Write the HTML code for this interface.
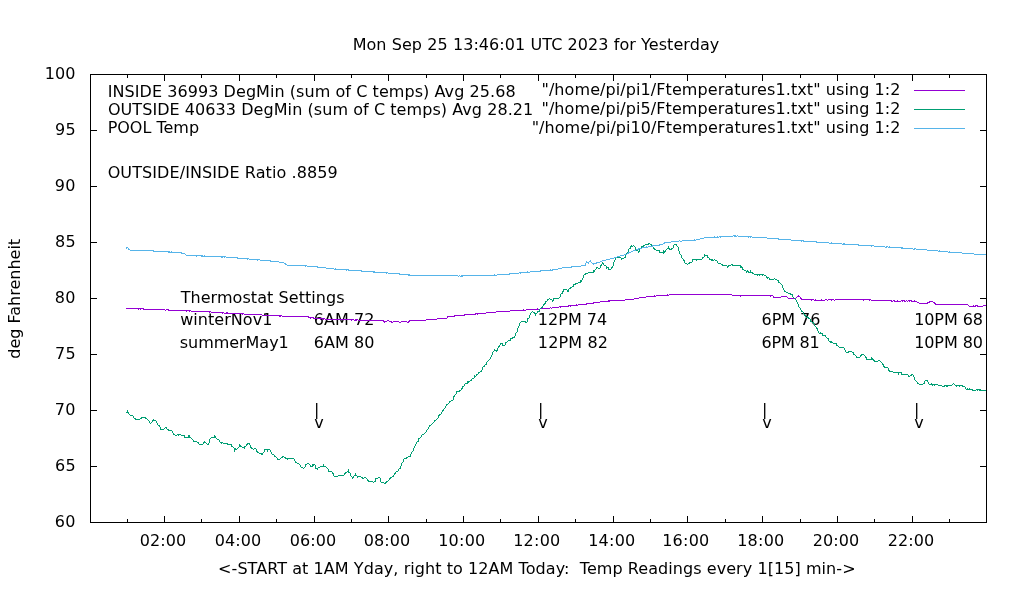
<!DOCTYPE html>
<html lang="en"><head><meta charset="utf-8"><title>Temperatures for Yesterday</title>
<style>html,body{margin:0;padding:0;background:#fff;overflow:hidden}svg{display:block}</style></head>
<body>
<svg width="1020" height="600" viewBox="0 0 1020 600">
<rect width="1020" height="600" fill="#fff"/>
<path d="M90,522.5h7M987,522.5h-7M90,466.5h7M987,466.5h-7M90,410.5h7M987,410.5h-7M90,354.5h7M987,354.5h-7M90,298.5h7M987,298.5h-7M90,242.5h7M987,242.5h-7M90,186.5h7M987,186.5h-7M90,130.5h7M987,130.5h-7M90,74.5h7M987,74.5h-7M127.5,523v-4M127.5,74v4M164.5,523v-7M164.5,74v7M201.5,523v-4M201.5,74v4M239.5,523v-7M239.5,74v7M276.5,523v-4M276.5,74v4M314.5,523v-7M314.5,74v7M351.5,523v-4M351.5,74v4M388.5,523v-7M388.5,74v7M426.5,523v-4M426.5,74v4M463.5,523v-7M463.5,74v7M500.5,523v-4M500.5,74v4M538.5,523v-7M538.5,74v7M575.5,523v-4M575.5,74v4M613.5,523v-7M613.5,74v7M650.5,523v-4M650.5,74v4M687.5,523v-7M687.5,74v7M725.5,523v-4M725.5,74v4M762.5,523v-7M762.5,74v7M800.5,523v-4M800.5,74v4M837.5,523v-7M837.5,74v7M874.5,523v-4M874.5,74v4M912.5,523v-7M912.5,74v7M949.5,523v-4M949.5,74v4" stroke="#000" stroke-width="1" fill="none" shape-rendering="crispEdges"/>
<g font-family="'DejaVu Sans','Liberation Sans',sans-serif" font-size="16" fill="#000">
<text x="54.75" y="527.1" letter-spacing="0.25">60</text>
<text x="55.09" y="471.1" letter-spacing="0.25">65</text>
<text x="54.75" y="415.1" letter-spacing="0.25">70</text>
<text x="55.09" y="359.1" letter-spacing="0.25">75</text>
<text x="54.75" y="303.1" letter-spacing="0.25">80</text>
<text x="55.09" y="247.1" letter-spacing="0.25">85</text>
<text x="54.75" y="191.1" letter-spacing="0.25">90</text>
<text x="55.09" y="135.1" letter-spacing="0.25">95</text>
<text x="44.82" y="79.1" letter-spacing="0.00">100</text>
<text x="139.85" y="546.0" letter-spacing="0.077" xml:space="preserve">02:00</text>
<text x="214.85" y="546.0" letter-spacing="0.077" xml:space="preserve">04:00</text>
<text x="289.85" y="546.0" letter-spacing="0.077" xml:space="preserve">06:00</text>
<text x="363.85" y="546.0" letter-spacing="0.077" xml:space="preserve">08:00</text>
<text x="438.14" y="546.0" letter-spacing="0.253" xml:space="preserve">10:00</text>
<text x="513.14" y="546.0" letter-spacing="0.253" xml:space="preserve">12:00</text>
<text x="588.14" y="546.0" letter-spacing="0.253" xml:space="preserve">14:00</text>
<text x="662.14" y="546.0" letter-spacing="0.253" xml:space="preserve">16:00</text>
<text x="737.14" y="546.0" letter-spacing="0.253" xml:space="preserve">18:00</text>
<text x="812.73" y="546.0" letter-spacing="0.106" xml:space="preserve">20:00</text>
<text x="887.73" y="546.0" letter-spacing="0.106" xml:space="preserve">22:00</text>
<text x="352.63" y="50.0" letter-spacing="0.069" xml:space="preserve">Mon Sep 25 13:46:01 UTC 2023 for Yesterday</text>
<text x="218.10" y="574.0" letter-spacing="0.065" xml:space="preserve">&lt;-START at 1AM Yday, right to 12AM Today:  Temp Readings every 1[15] min-&gt;</text>
<text transform="translate(20.3,298.8) rotate(-90)" text-anchor="middle">deg Fahrenheit</text>
<text x="107.73" y="96.7" letter-spacing="0.062" xml:space="preserve">INSIDE 36993 DegMin (sum of C temps) Avg 25.68</text>
<text x="107.90" y="115.2" letter-spacing="0.064" xml:space="preserve">OUTSIDE 40633 DegMin (sum of C temps) Avg 28.21</text>
<text x="107.63" y="132.5" letter-spacing="-0.004" xml:space="preserve">POOL Temp</text>
<text x="107.70" y="177.5" letter-spacing="0.084" xml:space="preserve">OUTSIDE/INSIDE Ratio .8859</text>
<text x="180.65" y="302.5" letter-spacing="0.061" xml:space="preserve">Thermostat Settings</text>
<text x="180.23" y="324.7" letter-spacing="0.042" xml:space="preserve">winterNov1</text>
<text x="179.73" y="347.5" letter-spacing="-0.032" xml:space="preserve">summerMay1</text>
<text x="313.68" y="324.7" letter-spacing="0.069" xml:space="preserve">6AM 72</text>
<text x="313.68" y="347.5" letter-spacing="0.081" xml:space="preserve">6AM 80</text>
<text x="537.84" y="324.7" letter-spacing="0.016" xml:space="preserve">12PM 74</text>
<text x="537.84" y="347.5" letter-spacing="0.134" xml:space="preserve">12PM 82</text>
<text x="761.58" y="324.7" letter-spacing="-0.051" xml:space="preserve">6PM 76</text>
<text x="761.58" y="347.5" letter-spacing="-0.217" xml:space="preserve">6PM 81</text>
<text x="914.14" y="324.7" letter-spacing="-0.068" xml:space="preserve">10PM 68</text>
<text x="914.14" y="347.5" letter-spacing="-0.073" xml:space="preserve">10PM 80</text>
<text x="314.0" y="415">|</text>
<text x="314.2" y="428">v</text>
<text x="538.0" y="415">|</text>
<text x="538.2" y="428">v</text>
<text x="762.0" y="415">|</text>
<text x="762.2" y="428">v</text>
<text x="914.0" y="415">|</text>
<text x="914.2" y="428">v</text>
<text x="541.46" y="95.0" letter-spacing="0.083" xml:space="preserve">&quot;/home/pi/pi1/Ftemperatures1.txt&quot; using 1:2</text>
<text x="541.46" y="114.0" letter-spacing="0.083" xml:space="preserve">&quot;/home/pi/pi5/Ftemperatures1.txt&quot; using 1:2</text>
<text x="531.66" y="132.8" letter-spacing="0.072" xml:space="preserve">&quot;/home/pi/pi10/Ftemperatures1.txt&quot; using 1:2</text>
</g>
<path d="M914,90.5H965" stroke="#9400d3" stroke-width="1" fill="none" shape-rendering="crispEdges"/>
<path d="M914,109.5H965" stroke="#009e73" stroke-width="1" fill="none" shape-rendering="crispEdges"/>
<path d="M914,128.5H965" stroke="#56b4e9" stroke-width="1" fill="none" shape-rendering="crispEdges"/>
<path d="M667 294h1v1h-1zM669 294h63v1h-63zM654 295h1v1h-1zM656 295h13v1h-13zM732 295h41v1h-41zM798 295h1v1h-1zM646 296h10v1h-10zM740 296h1v1h-1zM770 296h1v1h-1zM773 296h1v1h-1zM781 296h6v1h-6zM797 296h3v1h-3zM639 297h7v1h-7zM773 297h8v1h-8zM787 297h1v1h-1zM796 297h1v1h-1zM800 297h1v1h-1zM634 298h5v1h-5zM788 298h8v1h-8zM800 298h2v1h-2zM625 299h9v1h-9zM801 299h13v1h-13zM815 299h1v1h-1zM821 299h1v1h-1zM825 299h2v1h-2zM828 299h6v1h-6zM835 299h36v1h-36zM608 300h17v1h-17zM811 300h1v1h-1zM814 300h11v1h-11zM827 300h1v1h-1zM831 300h1v1h-1zM834 300h1v1h-1zM863 300h1v1h-1zM869 300h1v1h-1zM871 300h21v1h-21zM893 300h2v1h-2zM897 300h1v1h-1zM901 300h4v1h-4zM906 300h1v1h-1zM908 300h4v1h-4zM914 300h1v1h-1zM600 301h10v1h-10zM891 301h2v1h-2zM894 301h7v1h-7zM902 301h1v1h-1zM904 301h2v1h-2zM907 301h1v1h-1zM909 301h1v1h-1zM911 301h6v1h-6zM929 301h4v1h-4zM593 302h7v1h-7zM917 302h2v1h-2zM927 302h3v1h-3zM933 302h2v1h-2zM586 303h8v1h-8zM919 303h9v1h-9zM934 303h2v1h-2zM576 304h1v1h-1zM578 304h9v1h-9zM935 304h33v1h-33zM568 305h10v1h-10zM968 305h1v1h-1zM973 305h1v1h-1zM975 305h3v1h-3zM983 305h3v1h-3zM559 306h10v1h-10zM570 306h1v1h-1zM969 306h7v1h-7zM977 306h6v1h-6zM550 307h1v1h-1zM552 307h7v1h-7zM560 307h1v1h-1zM126 308h18v1h-18zM537 308h1v1h-1zM540 308h10v1h-10zM551 308h1v1h-1zM138 309h1v1h-1zM140 309h1v1h-1zM143 309h22v1h-22zM166 309h3v1h-3zM523 309h1v1h-1zM526 309h14v1h-14zM165 310h1v1h-1zM168 310h23v1h-23zM510 310h16v1h-16zM186 311h1v1h-1zM189 311h1v1h-1zM191 311h20v1h-20zM496 311h14v1h-14zM209 312h1v1h-1zM211 312h13v1h-13zM226 312h2v1h-2zM486 312h10v1h-10zM222 313h1v1h-1zM224 313h20v1h-20zM475 313h11v1h-11zM242 314h1v1h-1zM244 314h18v1h-18zM464 314h12v1h-12zM477 314h1v1h-1zM262 315h20v1h-20zM454 315h11v1h-11zM279 316h2v1h-2zM282 316h27v1h-27zM447 316h8v1h-8zM308 317h6v1h-6zM447 317h1v1h-1zM310 318h1v1h-1zM313 318h12v1h-12zM437 318h10v1h-10zM320 319h1v1h-1zM323 319h1v1h-1zM325 319h29v1h-29zM355 319h3v1h-3zM426 319h11v1h-11zM351 320h1v1h-1zM354 320h3v1h-3zM358 320h26v1h-26zM387 320h2v1h-2zM409 320h17v1h-17zM383 321h4v1h-4zM389 321h3v1h-3zM393 321h6v1h-6zM401 321h6v1h-6zM408 321h2v1h-2zM384 322h1v1h-1zM391 322h2v1h-2zM399 322h2v1h-2zM407 322h2v1h-2z" fill="#9400d3" shape-rendering="crispEdges"/>
<path d="M648 243h2v1h-2zM645 244h4v1h-4zM650 244h2v1h-2zM674 244h3v1h-3zM631 245h1v1h-1zM633 245h1v1h-1zM643 245h2v1h-2zM651 245h1v1h-1zM673 245h1v1h-1zM676 245h1v1h-1zM630 246h3v1h-3zM634 246h1v1h-1zM641 246h3v1h-3zM652 246h1v1h-1zM668 246h1v1h-1zM673 246h1v1h-1zM677 246h1v1h-1zM630 247h1v1h-1zM635 247h1v1h-1zM641 247h1v1h-1zM653 247h1v1h-1zM668 247h1v1h-1zM673 247h1v1h-1zM678 247h1v1h-1zM629 248h2v1h-2zM635 248h1v1h-1zM640 248h1v1h-1zM653 248h2v1h-2zM667 248h3v1h-3zM671 248h2v1h-2zM678 248h1v1h-1zM628 249h1v1h-1zM635 249h1v1h-1zM639 249h1v1h-1zM654 249h2v1h-2zM666 249h1v1h-1zM669 249h3v1h-3zM678 249h1v1h-1zM628 250h1v1h-1zM636 250h2v1h-2zM639 250h1v1h-1zM656 250h4v1h-4zM663 250h1v1h-1zM665 250h1v1h-1zM678 250h1v1h-1zM628 251h1v1h-1zM638 251h2v1h-2zM659 251h1v1h-1zM663 251h3v1h-3zM679 251h1v1h-1zM627 252h1v1h-1zM638 252h1v1h-1zM659 252h6v1h-6zM679 252h1v1h-1zM626 253h1v1h-1zM663 253h1v1h-1zM679 253h1v1h-1zM626 254h1v1h-1zM680 254h1v1h-1zM704 254h1v1h-1zM625 255h1v1h-1zM681 255h1v1h-1zM704 255h4v1h-4zM625 256h1v1h-1zM681 256h1v1h-1zM704 256h1v1h-1zM707 256h1v1h-1zM616 257h5v1h-5zM624 257h2v1h-2zM681 257h1v1h-1zM702 257h2v1h-2zM707 257h2v1h-2zM615 258h1v1h-1zM621 258h3v1h-3zM682 258h1v1h-1zM702 258h1v1h-1zM709 258h1v1h-1zM615 259h1v1h-1zM621 259h1v1h-1zM683 259h1v1h-1zM692 259h10v1h-10zM709 259h4v1h-4zM714 259h1v1h-1zM614 260h1v1h-1zM683 260h2v1h-2zM692 260h1v1h-1zM696 260h1v1h-1zM711 260h3v1h-3zM715 260h2v1h-2zM614 261h1v1h-1zM684 261h1v1h-1zM692 261h1v1h-1zM717 261h1v1h-1zM602 262h1v1h-1zM613 262h1v1h-1zM684 262h1v1h-1zM689 262h3v1h-3zM717 262h1v1h-1zM602 263h2v1h-2zM613 263h1v1h-1zM685 263h2v1h-2zM688 263h2v1h-2zM718 263h3v1h-3zM601 264h1v1h-1zM603 264h1v1h-1zM613 264h1v1h-1zM687 264h1v1h-1zM721 264h2v1h-2zM731 264h2v1h-2zM600 265h2v1h-2zM604 265h2v1h-2zM613 265h1v1h-1zM722 265h5v1h-5zM728 265h3v1h-3zM732 265h9v1h-9zM600 266h1v1h-1zM606 266h1v1h-1zM612 266h1v1h-1zM727 266h2v1h-2zM740 266h2v1h-2zM596 267h2v1h-2zM600 267h1v1h-1zM606 267h3v1h-3zM611 267h2v1h-2zM727 267h1v1h-1zM740 267h3v1h-3zM596 268h1v1h-1zM598 268h2v1h-2zM606 268h1v1h-1zM608 268h1v1h-1zM611 268h1v1h-1zM742 268h1v1h-1zM595 269h1v1h-1zM608 269h3v1h-3zM742 269h2v1h-2zM593 270h2v1h-2zM744 270h2v1h-2zM747 270h1v1h-1zM750 270h1v1h-1zM593 271h2v1h-2zM746 271h3v1h-3zM750 271h1v1h-1zM588 272h6v1h-6zM746 272h1v1h-1zM748 272h5v1h-5zM585 273h3v1h-3zM752 273h2v1h-2zM584 274h2v1h-2zM754 274h10v1h-10zM583 275h1v1h-1zM757 275h1v1h-1zM759 275h1v1h-1zM762 275h1v1h-1zM764 275h2v1h-2zM583 276h1v1h-1zM766 276h1v1h-1zM583 277h1v1h-1zM766 277h3v1h-3zM582 278h1v1h-1zM767 278h1v1h-1zM769 278h1v1h-1zM774 278h1v1h-1zM582 279h1v1h-1zM769 279h5v1h-5zM775 279h2v1h-2zM580 280h2v1h-2zM777 280h2v1h-2zM580 281h2v1h-2zM778 281h1v1h-1zM578 282h3v1h-3zM778 282h2v1h-2zM575 283h3v1h-3zM780 283h1v1h-1zM573 284h3v1h-3zM781 284h1v1h-1zM573 285h1v1h-1zM782 285h1v1h-1zM572 286h2v1h-2zM782 286h1v1h-1zM570 287h2v1h-2zM782 287h1v1h-1zM569 288h2v1h-2zM783 288h1v1h-1zM563 289h4v1h-4zM568 289h1v1h-1zM783 289h1v1h-1zM563 290h1v1h-1zM567 290h2v1h-2zM784 290h1v1h-1zM562 291h2v1h-2zM567 291h2v1h-2zM784 291h2v1h-2zM562 292h1v1h-1zM786 292h2v1h-2zM561 293h2v1h-2zM788 293h3v1h-3zM560 294h1v1h-1zM790 294h3v1h-3zM560 295h1v1h-1zM792 295h1v1h-1zM560 296h1v1h-1zM792 296h1v1h-1zM559 297h1v1h-1zM793 297h1v1h-1zM549 298h1v1h-1zM553 298h6v1h-6zM794 298h1v1h-1zM547 299h2v1h-2zM550 299h2v1h-2zM553 299h1v1h-1zM795 299h1v1h-1zM547 300h1v1h-1zM552 300h2v1h-2zM796 300h1v1h-1zM545 301h2v1h-2zM552 301h1v1h-1zM796 301h1v1h-1zM545 302h1v1h-1zM797 302h1v1h-1zM544 303h2v1h-2zM797 303h1v1h-1zM543 304h2v1h-2zM798 304h1v1h-1zM543 305h1v1h-1zM798 305h1v1h-1zM542 306h1v1h-1zM798 306h1v1h-1zM541 307h2v1h-2zM799 307h1v1h-1zM540 308h1v1h-1zM800 308h1v1h-1zM539 309h1v1h-1zM800 309h1v1h-1zM539 310h1v1h-1zM801 310h1v1h-1zM532 311h1v1h-1zM537 311h3v1h-3zM801 311h2v1h-2zM531 312h1v1h-1zM533 312h2v1h-2zM537 312h1v1h-1zM803 312h1v1h-1zM530 313h1v1h-1zM534 313h3v1h-3zM803 313h1v1h-1zM530 314h1v1h-1zM535 314h1v1h-1zM804 314h1v1h-1zM529 315h1v1h-1zM535 315h1v1h-1zM804 315h2v1h-2zM529 316h1v1h-1zM805 316h1v1h-1zM807 316h1v1h-1zM529 317h1v1h-1zM806 317h3v1h-3zM527 318h2v1h-2zM808 318h2v1h-2zM527 319h1v1h-1zM810 319h1v1h-1zM527 320h1v1h-1zM810 320h1v1h-1zM521 321h5v1h-5zM527 321h1v1h-1zM810 321h2v1h-2zM520 322h1v1h-1zM525 322h2v1h-2zM812 322h2v1h-2zM519 323h1v1h-1zM813 323h1v1h-1zM519 324h1v1h-1zM814 324h1v1h-1zM519 325h1v1h-1zM814 325h1v1h-1zM518 326h1v1h-1zM815 326h1v1h-1zM518 327h1v1h-1zM816 327h1v1h-1zM517 328h1v1h-1zM816 328h2v1h-2zM517 329h1v1h-1zM817 329h1v1h-1zM517 330h1v1h-1zM817 330h1v1h-1zM517 331h1v1h-1zM818 331h1v1h-1zM516 332h1v1h-1zM818 332h1v1h-1zM820 332h1v1h-1zM515 333h1v1h-1zM819 333h4v1h-4zM515 334h1v1h-1zM822 334h1v1h-1zM515 335h1v1h-1zM822 335h4v1h-4zM514 336h1v1h-1zM825 336h1v1h-1zM512 337h3v1h-3zM826 337h1v1h-1zM510 338h3v1h-3zM827 338h2v1h-2zM510 339h1v1h-1zM828 339h1v1h-1zM508 340h3v1h-3zM828 340h1v1h-1zM507 341h1v1h-1zM829 341h3v1h-3zM505 342h2v1h-2zM830 342h3v1h-3zM500 343h3v1h-3zM505 343h1v1h-1zM833 343h4v1h-4zM500 344h1v1h-1zM502 344h1v1h-1zM505 344h1v1h-1zM836 344h1v1h-1zM499 345h1v1h-1zM502 345h3v1h-3zM836 345h2v1h-2zM498 346h2v1h-2zM838 346h1v1h-1zM498 347h1v1h-1zM839 347h5v1h-5zM497 348h1v1h-1zM844 348h1v1h-1zM494 349h1v1h-1zM497 349h1v1h-1zM844 349h1v1h-1zM494 350h4v1h-4zM845 350h1v1h-1zM493 351h1v1h-1zM496 351h1v1h-1zM845 351h1v1h-1zM848 351h4v1h-4zM492 352h1v1h-1zM846 352h3v1h-3zM852 352h2v1h-2zM492 353h1v1h-1zM853 353h1v1h-1zM492 354h1v1h-1zM853 354h2v1h-2zM861 354h3v1h-3zM491 355h1v1h-1zM855 355h1v1h-1zM860 355h2v1h-2zM864 355h1v1h-1zM491 356h1v1h-1zM856 356h1v1h-1zM860 356h1v1h-1zM865 356h1v1h-1zM490 357h1v1h-1zM856 357h4v1h-4zM865 357h2v1h-2zM871 357h1v1h-1zM490 358h1v1h-1zM866 358h1v1h-1zM871 358h2v1h-2zM489 359h1v1h-1zM866 359h8v1h-8zM488 360h1v1h-1zM873 360h2v1h-2zM878 360h2v1h-2zM487 361h1v1h-1zM874 361h4v1h-4zM880 361h1v1h-1zM486 362h1v1h-1zM881 362h1v1h-1zM486 363h1v1h-1zM882 363h1v1h-1zM485 364h2v1h-2zM882 364h2v1h-2zM484 365h1v1h-1zM883 365h1v1h-1zM483 366h2v1h-2zM883 366h2v1h-2zM482 367h1v1h-1zM884 367h4v1h-4zM482 368h1v1h-1zM888 368h1v1h-1zM482 369h1v1h-1zM888 369h1v1h-1zM481 370h1v1h-1zM888 370h2v1h-2zM480 371h2v1h-2zM889 371h4v1h-4zM478 372h2v1h-2zM893 372h9v1h-9zM478 373h1v1h-1zM898 373h1v1h-1zM901 373h1v1h-1zM476 374h2v1h-2zM898 374h1v1h-1zM901 374h7v1h-7zM911 374h2v1h-2zM474 375h1v1h-1zM476 375h1v1h-1zM908 375h1v1h-1zM910 375h2v1h-2zM913 375h1v1h-1zM474 376h2v1h-2zM908 376h2v1h-2zM913 376h1v1h-1zM474 377h1v1h-1zM914 377h1v1h-1zM472 378h2v1h-2zM914 378h1v1h-1zM471 379h1v1h-1zM914 379h1v1h-1zM470 380h2v1h-2zM915 380h1v1h-1zM925 380h3v1h-3zM467 381h3v1h-3zM916 381h1v1h-1zM924 381h1v1h-1zM927 381h1v1h-1zM467 382h2v1h-2zM917 382h1v1h-1zM924 382h1v1h-1zM928 382h1v1h-1zM465 383h3v1h-3zM917 383h2v1h-2zM923 383h2v1h-2zM928 383h1v1h-1zM931 383h1v1h-1zM953 383h1v1h-1zM464 384h1v1h-1zM919 384h4v1h-4zM929 384h9v1h-9zM952 384h1v1h-1zM954 384h1v1h-1zM464 385h1v1h-1zM932 385h1v1h-1zM934 385h1v1h-1zM938 385h4v1h-4zM944 385h8v1h-8zM955 385h8v1h-8zM462 386h2v1h-2zM942 386h3v1h-3zM946 386h2v1h-2zM956 386h1v1h-1zM959 386h1v1h-1zM962 386h3v1h-3zM462 387h1v1h-1zM965 387h1v1h-1zM461 388h2v1h-2zM965 388h1v1h-1zM967 388h1v1h-1zM969 388h1v1h-1zM461 389h1v1h-1zM966 389h7v1h-7zM976 389h5v1h-5zM459 390h2v1h-2zM972 390h4v1h-4zM977 390h1v1h-1zM979 390h7v1h-7zM456 391h4v1h-4zM456 392h1v1h-1zM456 393h1v1h-1zM455 394h1v1h-1zM454 395h1v1h-1zM453 396h2v1h-2zM453 397h1v1h-1zM453 398h1v1h-1zM453 399h1v1h-1zM451 400h2v1h-2zM449 401h2v1h-2zM449 402h1v1h-1zM448 403h1v1h-1zM446 404h2v1h-2zM446 405h1v1h-1zM445 406h1v1h-1zM445 407h1v1h-1zM444 408h1v1h-1zM443 409h1v1h-1zM127 410h1v1h-1zM442 410h2v1h-2zM127 411h1v1h-1zM442 411h1v1h-1zM126 412h3v1h-3zM441 412h1v1h-1zM128 413h1v1h-1zM441 413h1v1h-1zM129 414h1v1h-1zM439 414h2v1h-2zM130 415h3v1h-3zM438 415h2v1h-2zM133 416h1v1h-1zM438 416h1v1h-1zM133 417h1v1h-1zM141 417h5v1h-5zM438 417h1v1h-1zM134 418h2v1h-2zM140 418h2v1h-2zM145 418h2v1h-2zM437 418h1v1h-1zM135 419h5v1h-5zM147 419h1v1h-1zM153 419h1v1h-1zM436 419h1v1h-1zM148 420h1v1h-1zM152 420h4v1h-4zM434 420h2v1h-2zM149 421h1v1h-1zM152 421h1v1h-1zM156 421h1v1h-1zM434 421h1v1h-1zM149 422h1v1h-1zM151 422h1v1h-1zM156 422h1v1h-1zM433 422h1v1h-1zM150 423h1v1h-1zM157 423h1v1h-1zM432 423h1v1h-1zM157 424h1v1h-1zM431 424h1v1h-1zM158 425h2v1h-2zM429 425h2v1h-2zM159 426h1v1h-1zM429 426h1v1h-1zM160 427h1v1h-1zM165 427h2v1h-2zM428 427h1v1h-1zM160 428h1v1h-1zM164 428h1v1h-1zM166 428h1v1h-1zM428 428h1v1h-1zM160 429h4v1h-4zM167 429h2v1h-2zM427 429h1v1h-1zM168 430h4v1h-4zM426 430h1v1h-1zM172 431h1v1h-1zM426 431h1v1h-1zM172 432h1v1h-1zM425 432h1v1h-1zM173 433h1v1h-1zM424 433h1v1h-1zM173 434h2v1h-2zM177 434h4v1h-4zM422 434h2v1h-2zM175 435h2v1h-2zM178 435h1v1h-1zM181 435h4v1h-4zM188 435h2v1h-2zM214 435h1v1h-1zM421 435h1v1h-1zM184 436h1v1h-1zM188 436h2v1h-2zM214 436h2v1h-2zM421 436h1v1h-1zM184 437h7v1h-7zM211 437h5v1h-5zM420 437h1v1h-1zM191 438h1v1h-1zM210 438h1v1h-1zM216 438h1v1h-1zM418 438h2v1h-2zM192 439h1v1h-1zM209 439h1v1h-1zM217 439h2v1h-2zM418 439h1v1h-1zM193 440h1v1h-1zM209 440h1v1h-1zM219 440h1v1h-1zM418 440h1v1h-1zM193 441h4v1h-4zM204 441h1v1h-1zM209 441h1v1h-1zM219 441h1v1h-1zM417 441h2v1h-2zM197 442h2v1h-2zM203 442h3v1h-3zM209 442h1v1h-1zM220 442h3v1h-3zM416 442h1v1h-1zM198 443h1v1h-1zM203 443h1v1h-1zM206 443h1v1h-1zM208 443h1v1h-1zM221 443h1v1h-1zM223 443h5v1h-5zM247 443h3v1h-3zM416 443h1v1h-1zM199 444h4v1h-4zM207 444h2v1h-2zM227 444h5v1h-5zM239 444h1v1h-1zM246 444h2v1h-2zM249 444h1v1h-1zM415 444h1v1h-1zM231 445h1v1h-1zM239 445h2v1h-2zM246 445h1v1h-1zM250 445h1v1h-1zM415 445h1v1h-1zM231 446h2v1h-2zM239 446h3v1h-3zM244 446h2v1h-2zM250 446h1v1h-1zM414 446h1v1h-1zM233 447h1v1h-1zM238 447h1v1h-1zM242 447h3v1h-3zM250 447h2v1h-2zM414 447h1v1h-1zM234 448h2v1h-2zM237 448h1v1h-1zM244 448h1v1h-1zM251 448h2v1h-2zM254 448h2v1h-2zM413 448h1v1h-1zM234 449h3v1h-3zM253 449h1v1h-1zM256 449h1v1h-1zM264 449h6v1h-6zM413 449h1v1h-1zM234 450h1v1h-1zM256 450h1v1h-1zM264 450h1v1h-1zM267 450h1v1h-1zM270 450h1v1h-1zM413 450h1v1h-1zM234 451h1v1h-1zM256 451h2v1h-2zM264 451h1v1h-1zM267 451h1v1h-1zM270 451h1v1h-1zM412 451h1v1h-1zM257 452h2v1h-2zM263 452h1v1h-1zM271 452h1v1h-1zM411 452h1v1h-1zM259 453h4v1h-4zM271 453h1v1h-1zM411 453h1v1h-1zM261 454h2v1h-2zM272 454h2v1h-2zM410 454h1v1h-1zM274 455h1v1h-1zM410 455h1v1h-1zM274 456h2v1h-2zM282 456h2v1h-2zM408 456h3v1h-3zM276 457h1v1h-1zM281 457h2v1h-2zM284 457h2v1h-2zM406 457h2v1h-2zM277 458h1v1h-1zM280 458h1v1h-1zM285 458h9v1h-9zM404 458h3v1h-3zM277 459h3v1h-3zM287 459h1v1h-1zM294 459h1v1h-1zM403 459h1v1h-1zM294 460h1v1h-1zM403 460h1v1h-1zM295 461h1v1h-1zM403 461h1v1h-1zM295 462h2v1h-2zM402 462h1v1h-1zM297 463h2v1h-2zM307 463h2v1h-2zM401 463h1v1h-1zM299 464h1v1h-1zM305 464h2v1h-2zM309 464h1v1h-1zM312 464h3v1h-3zM323 464h1v1h-1zM401 464h1v1h-1zM300 465h1v1h-1zM305 465h1v1h-1zM310 465h1v1h-1zM312 465h2v1h-2zM315 465h1v1h-1zM323 465h1v1h-1zM401 465h1v1h-1zM300 466h1v1h-1zM305 466h1v1h-1zM310 466h3v1h-3zM315 466h1v1h-1zM320 466h6v1h-6zM400 466h1v1h-1zM301 467h2v1h-2zM304 467h1v1h-1zM315 467h1v1h-1zM318 467h2v1h-2zM326 467h1v1h-1zM400 467h1v1h-1zM303 468h1v1h-1zM315 468h3v1h-3zM327 468h1v1h-1zM399 468h2v1h-2zM317 469h1v1h-1zM328 469h1v1h-1zM348 469h1v1h-1zM398 469h1v1h-1zM328 470h1v1h-1zM348 470h1v1h-1zM398 470h1v1h-1zM328 471h4v1h-4zM347 471h2v1h-2zM396 471h2v1h-2zM332 472h1v1h-1zM345 472h2v1h-2zM348 472h2v1h-2zM395 472h1v1h-1zM332 473h2v1h-2zM344 473h2v1h-2zM350 473h1v1h-1zM355 473h1v1h-1zM394 473h2v1h-2zM333 474h1v1h-1zM344 474h1v1h-1zM350 474h1v1h-1zM355 474h1v1h-1zM394 474h1v1h-1zM333 475h1v1h-1zM338 475h6v1h-6zM350 475h1v1h-1zM354 475h3v1h-3zM393 475h1v1h-1zM334 476h4v1h-4zM351 476h1v1h-1zM353 476h1v1h-1zM357 476h4v1h-4zM392 476h2v1h-2zM352 477h2v1h-2zM357 477h1v1h-1zM361 477h2v1h-2zM364 477h2v1h-2zM378 477h2v1h-2zM390 477h2v1h-2zM352 478h1v1h-1zM362 478h2v1h-2zM366 478h1v1h-1zM375 478h3v1h-3zM380 478h1v1h-1zM389 478h2v1h-2zM367 479h1v1h-1zM375 479h1v1h-1zM380 479h1v1h-1zM389 479h1v1h-1zM367 480h2v1h-2zM375 480h1v1h-1zM380 480h1v1h-1zM388 480h1v1h-1zM368 481h5v1h-5zM374 481h2v1h-2zM380 481h1v1h-1zM386 481h2v1h-2zM373 482h1v1h-1zM381 482h3v1h-3zM385 482h2v1h-2zM384 483h2v1h-2z" fill="#009e73" shape-rendering="crispEdges"/>
<path d="M733 235h3v1h-3zM737 235h1v1h-1zM714 236h1v1h-1zM717 236h1v1h-1zM719 236h14v1h-14zM734 236h3v1h-3zM738 236h14v1h-14zM704 237h15v1h-15zM720 237h1v1h-1zM748 237h1v1h-1zM750 237h1v1h-1zM752 237h15v1h-15zM700 238h4v1h-4zM767 238h12v1h-12zM694 239h1v1h-1zM696 239h4v1h-4zM778 239h13v1h-13zM679 240h1v1h-1zM682 240h14v1h-14zM791 240h13v1h-13zM671 241h8v1h-8zM680 241h2v1h-2zM801 241h1v1h-1zM803 241h14v1h-14zM664 242h7v1h-7zM816 242h13v1h-13zM831 242h1v1h-1zM663 243h2v1h-2zM829 243h13v1h-13zM843 243h2v1h-2zM659 244h4v1h-4zM842 244h17v1h-17zM652 245h8v1h-8zM858 245h16v1h-16zM646 246h1v1h-1zM648 246h5v1h-5zM871 246h1v1h-1zM874 246h11v1h-11zM886 246h2v1h-2zM889 246h1v1h-1zM126 247h2v1h-2zM642 247h6v1h-6zM885 247h2v1h-2zM888 247h15v1h-15zM126 248h1v1h-1zM128 248h1v1h-1zM638 248h4v1h-4zM901 248h12v1h-12zM914 248h2v1h-2zM128 249h2v1h-2zM636 249h3v1h-3zM913 249h2v1h-2zM916 249h11v1h-11zM130 250h24v1h-24zM633 250h3v1h-3zM927 250h11v1h-11zM939 250h1v1h-1zM153 251h17v1h-17zM171 251h1v1h-1zM631 251h2v1h-2zM938 251h10v1h-10zM949 251h1v1h-1zM168 252h14v1h-14zM628 252h3v1h-3zM948 252h14v1h-14zM181 253h4v1h-4zM627 253h2v1h-2zM962 253h12v1h-12zM185 254h1v1h-1zM624 254h3v1h-3zM974 254h12v1h-12zM186 255h17v1h-17zM204 255h1v1h-1zM620 255h4v1h-4zM196 256h1v1h-1zM201 256h25v1h-25zM617 256h3v1h-3zM221 257h2v1h-2zM224 257h1v1h-1zM226 257h12v1h-12zM614 257h3v1h-3zM237 258h12v1h-12zM610 258h4v1h-4zM247 259h1v1h-1zM249 259h11v1h-11zM606 259h4v1h-4zM257 260h1v1h-1zM260 260h11v1h-11zM590 260h1v1h-1zM602 260h4v1h-4zM270 261h9v1h-9zM586 261h1v1h-1zM589 261h2v1h-2zM600 261h2v1h-2zM279 262h5v1h-5zM586 262h3v1h-3zM591 262h1v1h-1zM596 262h4v1h-4zM284 263h2v1h-2zM585 263h1v1h-1zM588 263h1v1h-1zM592 263h5v1h-5zM285 264h2v1h-2zM585 264h1v1h-1zM593 264h1v1h-1zM287 265h20v1h-20zM581 265h5v1h-5zM305 266h1v1h-1zM307 266h11v1h-11zM571 266h10v1h-10zM317 267h9v1h-9zM562 267h10v1h-10zM326 268h8v1h-8zM335 268h1v1h-1zM558 268h4v1h-4zM334 269h15v1h-15zM550 269h1v1h-1zM552 269h6v1h-6zM346 270h1v1h-1zM348 270h14v1h-14zM540 270h13v1h-13zM361 271h14v1h-14zM527 271h1v1h-1zM530 271h11v1h-11zM373 272h15v1h-15zM519 272h11v1h-11zM386 273h1v1h-1zM388 273h12v1h-12zM509 273h10v1h-10zM520 273h1v1h-1zM399 274h11v1h-11zM494 274h1v1h-1zM497 274h13v1h-13zM408 275h50v1h-50zM459 275h1v1h-1zM461 275h36v1h-36zM458 276h1v1h-1zM460 276h3v1h-3z" fill="#56b4e9" shape-rendering="crispEdges"/>
<rect x="90.5" y="74.5" width="896" height="448" fill="none" stroke="#000" stroke-width="1" shape-rendering="crispEdges"/>
</svg>
</body></html>
